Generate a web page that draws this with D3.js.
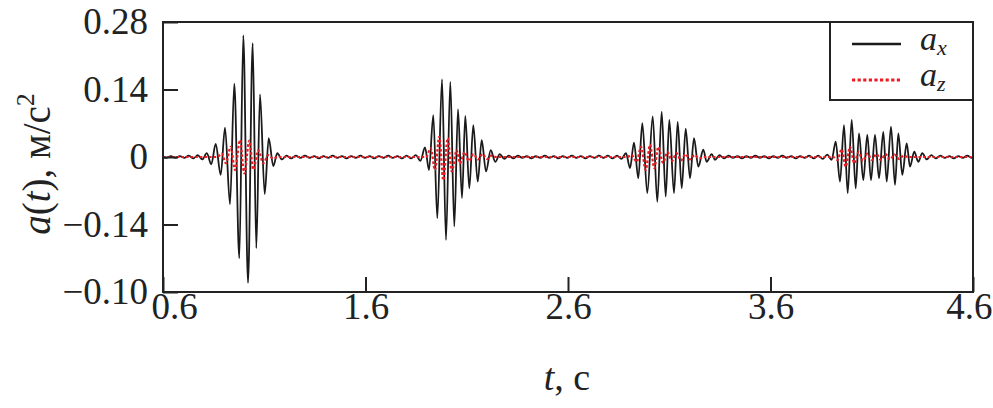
<!DOCTYPE html>
<html><head><meta charset="utf-8">
<script src="https://cdn.jsdelivr.net/npm/d3@7"></script>
<style>
body{margin:0;background:#fff;}
svg{display:block;}
text{font-family:"Liberation Serif","Times New Roman",serif;fill:#222;}
</style>
</head><body>
<svg id="chart" width="993" height="408"></svg>
<script>
const xTicks = [0.6, 1.6, 2.6, 3.6, 4.6];
const xTickLabels = ["0.6", "1.6", "2.6", "3.6", "4.6"];
const yTicks = [0.28, 0.14, 0, -0.14, -0.28];
const yTickLabels = ["0.28", "0.14", "0", "\u22120.14", "\u22120.10"];
const seriesNames = ["x", "z"];

// a_x: extrema [t, value]
const axData = [
[0.600,0],
[0.6165,-0.002],[0.6387,0.002],[0.6609,-0.002],[0.6831,0.002],[0.7053,-0.002],[0.7275,0.003],[0.7497,-0.003],[0.7719,0.004],[0.7941,-0.005],[0.8163,0.008],
[0.8385,-0.015],[0.8602,0.027],[0.8849,-0.037],[0.9062,0.061],[0.9309,-0.098],[0.9521,0.152],[0.9768,-0.210],[0.9965,0.252],[1.0198,-0.261],[1.0430,0.236],[1.0607,-0.189],[1.0790,0.130],[1.1022,-0.077],[1.1220,0.039],[1.1447,-0.019],[1.1644,0.008],
[1.1872,-0.005],[1.2100,0.003],[1.2328,-0.003],[1.2556,0.003],[1.2784,-0.002],[1.3012,0.003],[1.3240,-0.002],[1.3468,0.002],[1.3696,-0.003],[1.3924,0.002],[1.4152,-0.002],[1.4380,0.003],[1.4608,-0.002],[1.4836,0.002],[1.5064,-0.003],[1.5292,0.002],[1.5520,-0.002],[1.5748,0.003],[1.5976,-0.002],[1.6204,0.002],[1.6432,-0.003],[1.6660,0.002],[1.6888,-0.002],[1.7116,0.003],[1.7344,-0.002],[1.7572,0.002],[1.7800,-0.003],[1.8028,0.003],[1.8256,-0.003],[1.8484,0.004],[1.8712,-0.008],
[1.8938,0.020],[1.9136,-0.027],[1.9348,0.087],[1.9546,-0.127],[1.9778,0.161],[1.9975,-0.172],[2.0188,0.156],[2.0385,-0.144],[2.0568,0.099],[2.0765,-0.085],[2.0928,0.085],[2.1126,-0.065],[2.1323,0.066],[2.1541,-0.051],[2.1738,0.035],[2.1951,-0.030],[2.2183,0.014],[2.2410,-0.010],
[2.2633,0.006],[2.2855,-0.004],[2.3078,0.003],[2.3300,-0.003],[2.3523,0.003],[2.3746,-0.002],[2.3968,0.002],[2.4190,-0.003],[2.4413,0.002],[2.4636,-0.002],[2.4858,0.003],[2.5081,-0.002],[2.5303,0.002],[2.5526,-0.003],[2.5748,0.002],[2.5971,-0.002],[2.6193,0.003],[2.6416,-0.002],[2.6638,0.002],[2.6861,-0.003],[2.7084,0.002],[2.7306,-0.002],[2.7529,0.003],[2.7751,-0.002],[2.7974,0.003],[2.8196,-0.003],[2.8419,0.003],[2.8641,-0.004],
[2.8864,0.008],[2.9062,-0.023],[2.9259,0.030],[2.9472,-0.044],[2.9669,0.070],[2.9916,-0.075],[3.0183,0.084],[3.0410,-0.093],[3.0627,0.094],[3.0825,-0.082],[3.1002,0.077],[3.1235,-0.075],[3.1417,0.073],[3.1615,-0.065],[3.1812,0.059],[3.2025,-0.044],[3.2222,0.039],[3.2435,-0.020],[3.2681,0.015],[3.2849,-0.010],[3.3096,0.006],[3.3259,-0.006],
[3.3481,0.004],[3.3702,-0.003],[3.3924,0.003],[3.4146,-0.002],[3.4367,0.002],[3.4589,-0.003],[3.4811,0.002],[3.5032,-0.002],[3.5254,0.003],[3.5476,-0.002],[3.5697,0.002],[3.5919,-0.003],[3.6140,0.002],[3.6362,-0.002],[3.6584,0.003],[3.6805,-0.002],[3.7027,0.002],[3.7249,-0.003],[3.7470,0.002],[3.7692,-0.002],[3.7914,0.003],[3.8135,-0.003],[3.8357,0.003],[3.8579,-0.004],[3.8800,0.005],
[3.9022,-0.006],[3.9220,0.032],[3.9432,-0.051],[3.9630,0.066],[3.9812,-0.075],[4.0010,0.077],[4.0207,-0.065],[4.0370,0.049],[4.0583,-0.048],[4.0780,0.046],[4.0963,-0.048],[4.1160,0.046],[4.1358,-0.044],[4.1570,0.052],[4.1738,-0.051],[4.1951,0.063],[4.2148,-0.058],[4.2311,0.049],[4.2509,-0.037],[4.2726,0.028],[4.2889,-0.020],[4.3101,0.011],[4.3299,-0.010],[4.3496,0.008],
[4.3718,-0.005],[4.3940,0.004],[4.4162,-0.003],[4.4384,0.003],[4.4606,-0.002],[4.4828,0.002],[4.5050,-0.003],[4.5272,0.002],[4.5494,-0.002],[4.5716,0.003],[4.5938,-0.002],[4.6000,0]
];

// a_z: extrema [t, value]
const azData = [
[0.600,0],[0.8681,0],
[0.8899,0.007],[0.9111,-0.013],[0.9343,0.021],[0.9556,-0.027],[0.9802,0.035],[1.0015,-0.034],[1.0262,0.034],[1.0459,-0.026],[1.0706,0.014],[1.0953,-0.013],[1.1200,0.004],[1.1432,-0.003],[1.1654,0],
[1.8988,0],
[1.9220,0.018],[1.9432,-0.027],[1.9644,0.042],[1.9842,-0.048],[2.0059,0.039],[2.0257,-0.030],[2.0504,0.014],[2.0667,-0.013],[2.0889,0.010],[2.1111,-0.008],[2.1333,0.006],[2.1556,-0.005],[2.1778,0.006],[2.2000,-0.004],[2.2222,0.003],[2.2444,0],
[2.8914,0],
[2.9146,0.004],[2.9393,-0.010],[2.9605,0.021],[2.9837,-0.027],[3.0049,0.025],[3.0262,-0.023],[3.0459,0.021],[3.0691,-0.012],[3.0914,0.010],[3.1136,-0.008],[3.1358,0.008],[3.1580,-0.007],[3.1802,0.006],[3.2025,-0.005],[3.2247,0.004],[3.2469,-0.003],[3.2716,0],
[3.9086,0],
[3.9309,-0.006],[3.9516,0.016],[3.9714,-0.020],[3.9926,0.021],[4.0138,-0.013],[4.0346,0.010],[4.0568,-0.008],[4.0790,0.007],[4.1012,-0.006],[4.1235,0.006],[4.1457,-0.006],[4.1679,0.006],[4.1901,-0.005],[4.2123,0.005],[4.2346,-0.004],[4.2568,0.003],[4.2790,0],
[4.6000,0]
];

const W = 993, H = 408;
const M = {left: 163, right: 973, top: 22, bottom: 292};
const svg = d3.select("#chart");

const x = d3.scaleLinear().domain([0.6, 4.6]).range([M.left, M.right]);
const y = d3.scaleLinear().domain([-0.28, 0.28]).range([M.bottom, M.top]);

svg.append("defs").append("clipPath").attr("id", "clip")
  .append("rect").attr("x", M.left).attr("y", M.top)
  .attr("width", M.right - M.left).attr("height", M.bottom - M.top);

const line = d3.line().x(d => x(d[0])).y(d => y(d[1])).curve(d3.curveMonotoneX);

const plot = svg.append("g").attr("clip-path", "url(#clip)");
plot.append("path").datum(axData)
  .attr("d", line).attr("fill", "none")
  .attr("stroke", "#1a1a1a").attr("stroke-width", 1.8).attr("stroke-linejoin", "round");
plot.append("path").datum(azData)
  .attr("d", line).attr("fill", "none")
  .attr("stroke", "#ec1c24").attr("stroke-width", 2.2).attr("stroke-dasharray", "2.6,2");

// axes
const yAxis = d3.axisLeft(y).tickValues(yTicks).tickFormat((d, i) => yTickLabels[i])
  .tickSizeInner(-15).tickSizeOuter(0).tickPadding(15);
const gy = svg.append("g").attr("transform", `translate(${M.left},0)`).call(yAxis);
gy.select(".domain").remove();
gy.selectAll(".tick line").attr("stroke", "#222").attr("stroke-width", 2);
gy.selectAll(".tick text").attr("font-size", 37).attr("fill", "#222");

const xAxis = d3.axisBottom(x).tickValues(xTicks).tickFormat((d, i) => xTickLabels[i])
  .tickSizeInner(-15).tickSizeOuter(0).tickPadding(1);
const gx = svg.append("g").attr("transform", `translate(0,${M.bottom})`).call(xAxis);
gx.select(".domain").remove();
gx.selectAll(".tick line").attr("stroke", "#222").attr("stroke-width", 2);
gx.selectAll(".tick text").attr("font-size", 37).attr("fill", "#222");
gx.selectAll(".tick text").filter((d, i) => i === 0)
  .attr("text-anchor", "start").attr("x", -12);
gx.selectAll(".tick text").filter((d, i) => i === xTicks.length - 1)
  .attr("text-anchor", "end").attr("x", 19);

// frame
svg.append("rect").attr("x", M.left).attr("y", M.top)
  .attr("width", M.right - M.left).attr("height", M.bottom - M.top)
  .attr("fill", "none").attr("stroke", "#222").attr("stroke-width", 2);

// axis titles
const yt = svg.append("text").attr("transform", "translate(50,164) rotate(-90)")
  .attr("text-anchor", "middle").attr("font-size", 39);
yt.append("tspan").attr("font-style", "italic").text("a");
yt.append("tspan").text("(");
yt.append("tspan").attr("font-style", "italic").text("t");
yt.append("tspan").text("), \u043c/\u0441");
yt.append("tspan").attr("dy", -16).attr("font-size", 26).text("2");

const xt = svg.append("text").attr("x", 567).attr("y", 390)
  .attr("text-anchor", "middle").attr("font-size", 38);
xt.append("tspan").attr("font-style", "italic").text("t");
xt.append("tspan").text(", \u0441");

// legend
const lg = svg.append("g");
lg.append("rect").attr("x", 830).attr("y", M.top).attr("width", M.right - 830).attr("height", 100 - M.top)
  .attr("fill", "#fff").attr("stroke", "#222").attr("stroke-width", 2);
const legendItems = [
  {name: seriesNames[0], color: "#1a1a1a", dash: null, w: 2.6, yy: 44},
  {name: seriesNames[1], color: "#ec1c24", dash: "3.2,2.4", w: 3, yy: 80}
];
legendItems.forEach(it => {
  lg.append("line").attr("x1", 852).attr("x2", 901).attr("y1", it.yy).attr("y2", it.yy)
    .attr("stroke", it.color).attr("stroke-width", it.w).attr("stroke-dasharray", it.dash);
  const t = lg.append("text").attr("x", 920).attr("y", it.yy + 6).attr("font-size", 34).attr("font-style", "italic");
  t.append("tspan").text("a");
  t.append("tspan").attr("dy", 5).attr("font-size", 22).text(it.name);
});
</script>
</body></html>
